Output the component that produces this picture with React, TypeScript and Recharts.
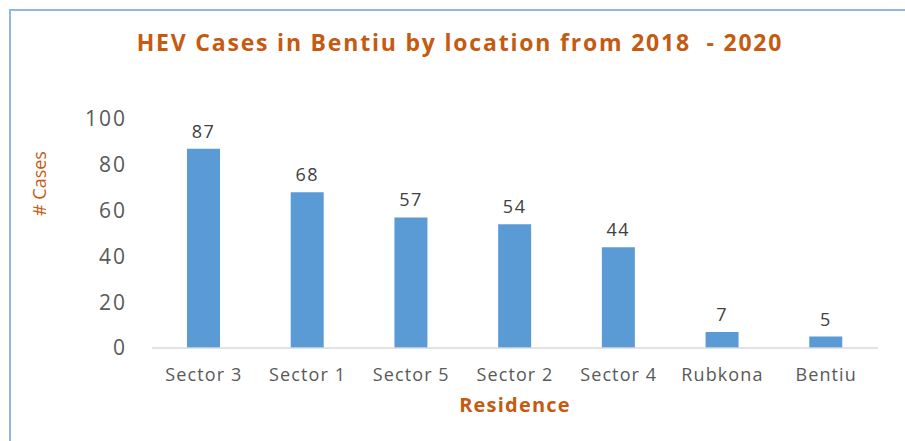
import { Bar, BarChart, LabelList, XAxis, YAxis, Label } from "recharts";

const locations = ["Sector 3", "Sector 1", "Sector 5", "Sector 2", "Sector 4", "Rubkona", "Bentiu"];
const cases = [87, 68, 57, 54, 44, 7, 5];
const yTicks = [0, 20, 40, 60, 80, 100];

const data = locations.map((name, i) => ({ name, cases: cases[i] }));

const FONT = "'Open Sans', sans-serif";
const ORANGE = "#C55A11";
const GREY = "#595959";

export default function App() {
  return (
    <div style={{ position: "absolute", left: 0, top: 0, width: 905, height: 441, background: "#fff", fontFamily: FONT }}>
      <div
        style={{
          position: "absolute",
          left: 9,
          top: 9,
          width: 900,
          height: 440,
          borderLeft: "2px solid #8FB8E4",
          borderTop: "2px solid #8FB8E4",
        }}
      />
      <div
        style={{
          position: "absolute",
          left: 0,
          top: 26,
          width: 920,
          textAlign: "center",
          color: ORANGE,
          fontWeight: 700,
          fontSize: 23,
          letterSpacing: 1.8,
          whiteSpace: "pre",
        }}
      >
        {"HEV Cases in Bentiu by location from 2018  - 2020"}
      </div>
      <BarChart
        width={905}
        height={441}
        data={data}
        margin={{ top: 119, right: 27, bottom: 23, left: 20 }}
        style={{ fontFamily: FONT }}
      >
        <XAxis
          dataKey="name"
          height={70}
          tickLine={false}
          tickSize={0}
          tickMargin={20}
          axisLine={{ stroke: "#D9D9D9", strokeWidth: 1.5 }}
          tick={{ fill: GREY, fontSize: 18, letterSpacing: 1.1 }}
          interval={0}
        >
          <Label
            value="Residence"
            position="insideBottom"
            offset={6}
            style={{ fill: ORANGE, fontSize: 20, fontWeight: 700, letterSpacing: 1.2 }}
          />
        </XAxis>
        <YAxis
          width={132}
          domain={[0, 100]}
          ticks={yTicks}
          axisLine={false}
          tickLine={false}
          tickSize={0}
          tickMargin={25}
          tick={{ fill: GREY, fontSize: 21, letterSpacing: 2 }}
        >
          <Label
            content={(props: any) => {
              const vb = props.viewBox || { x: 0, y: 0, height: 0 };
              const cx = 39;
              const cy = vb.y + vb.height / 2 - 50;
              return (
                <text
                  x={cx}
                  y={cy}
                  transform={`rotate(-90, ${cx}, ${cy})`}
                  textAnchor="middle"
                  dominantBaseline="central"
                  fill={ORANGE}
                  fontSize={18}
                  fontFamily={FONT}
                >
                  # Cases
                </text>
              );
            }}
          />
        </YAxis>
        <Bar dataKey="cases" fill="#5B9BD5" barSize={33} isAnimationActive={false}>
          <LabelList dataKey="cases" position="top" offset={11} fill="#404040" fontSize={18} letterSpacing={1.5} />
        </Bar>
      </BarChart>
    </div>
  );
}
